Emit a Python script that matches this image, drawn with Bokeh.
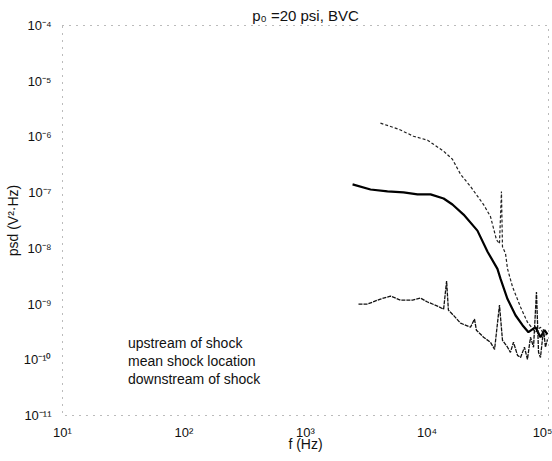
from bokeh.plotting import figure
from bokeh.models import CustomJSTickFormatter, Legend, LegendItem, Range1d
from bokeh.embed import file_html
from bokeh.resources import INLINE

# ---- data ----
up_f = [4140, 5830, 7740, 10100, 13700, 16200, 18900, 22800, 29200, 33300, 37300,
        39500, 41000, 41800, 44300, 46000, 50600, 58900, 67100, 78200, 85900, 92700, 98100]
up_psd = [1.77e-6, 1.38e-6, 1.03e-6, 8.75e-7, 5.54e-7, 3.97e-7, 2.13e-7, 1.29e-7, 6.12e-8,
          3.72e-8, 1.43e-8, 1.21e-8, 1.05e-7, 1.07e-8, 8.0e-9, 4.28e-9, 2.03e-9, 8.8e-10,
          4.73e-10, 3.13e-10, 3.85e-10, 2.54e-10, 3.13e-10]

mean_f = [2440, 3430, 4730, 6410, 8350, 10700, 13700, 16200, 20000, 26000, 31500, 38000,
          40300, 46000, 53500, 61100, 68400, 78200, 85900, 92700, 98100]
mean_psd = [1.41e-7, 1.14e-7, 1.05e-7, 1.01e-7, 9.3e-8, 9.3e-8, 7.85e-8, 6.12e-8, 4.04e-8,
            2.08e-8, 8.7e-9, 4.28e-9, 2.83e-9, 1.23e-9, 6.3e-10, 4.18e-10, 3.13e-10,
            3.85e-10, 2.54e-10, 3.40e-10, 2.87e-10]

down_f = [2730, 3240, 4140, 5010, 6050, 7600, 8850, 10100, 12200, 13700, 14500, 15000,
          16500, 18900, 22800, 24600, 25500, 29200, 33300, 36000, 39500, 41800, 46000,
          48600, 51500, 55600, 58900, 63400, 67100, 71100, 75300, 79600, 82800, 85900,
          91000, 94400, 98100]
down_psd = [1.0e-9, 1.0e-9, 1.23e-9, 1.39e-9, 1.18e-9, 1.18e-9, 1.28e-9, 1.09e-9, 9.2e-10,
            8.1e-10, 2.6e-9, 7.8e-10, 6.3e-10, 4.54e-10, 3.85e-10, 5.36e-10, 3.40e-10,
            2.54e-10, 2.06e-10, 1.54e-10, 9.6e-10, 2.24e-10, 1.68e-10, 1.36e-10, 2.06e-10,
            1.20e-10, 1.10e-10, 1.68e-10, 1.02e-10, 2.54e-10, 1.68e-10, 1.65e-9, 1.36e-10,
            1.10e-10, 3.54e-10, 1.68e-10, 2.33e-10]

series_labels = ["upstream of shock", "mean shock location", "downstream of shock"]
title_text = "p\u2080 =20 psi, BVC"
x_label = "f (Hz)"
y_label = "psd (V\u00b2\u00b7Hz)"

FONT = "Liberation Sans"

p = figure(width=552, height=461, x_axis_type="log", y_axis_type="log",
           x_range=Range1d(10, 1e5), y_range=Range1d(1e-11, 1e-4),
           output_backend="svg", toolbar_location=None,
           min_border_left=62, min_border_right=4, min_border_top=25, min_border_bottom=46,
           title=title_text)
p.background_fill_color = "white"
p.border_fill_color = "white"
p.grid.visible = False
p.outline_line_color = "#777777"
p.outline_line_dash = "1 6"
p.outline_line_width = 1

p.title.align = "center"
p.title.text_font = FONT
p.title.text_font_size = "15px"
p.title.text_font_style = "normal"
p.title.text_color = "#111111"
p.title.standoff = 4

fmt = CustomJSTickFormatter(code="""
const sup = {'-':'\u207b','0':'\u2070','1':'\u00b9','2':'\u00b2','3':'\u00b3','4':'\u2074',
             '5':'\u2075','6':'\u2076','7':'\u2077','8':'\u2078','9':'\u2079'};
const e = Math.round(Math.log10(tick));
return '10' + String(e).split('').map(c => sup[c]).join('');
""")

for ax in (p.xaxis[0], p.yaxis[0]):
    ax.formatter = fmt
    ax.axis_line_color = None
    ax.major_tick_line_color = None
    ax.minor_tick_line_color = None
    ax.major_label_text_font = FONT
    ax.major_label_text_font_size = "13px"
    ax.major_label_text_color = "#111111"
    ax.axis_label_text_font = FONT
    ax.axis_label_text_font_size = "14px"
    ax.axis_label_text_font_style = "normal"
    ax.axis_label_text_color = "#111111"

p.xaxis.axis_label = x_label
p.yaxis.axis_label = y_label
p.xaxis.major_label_standoff = 3
p.yaxis.major_label_standoff = 5
p.xaxis.axis_label_standoff = -7
p.yaxis.axis_label_standoff = 0

r_up = p.line(up_f, up_psd, line_color="#222222", line_width=1.2, line_dash="3 2")
r_mean = p.line(mean_f, mean_psd, line_color="#000000", line_width=2.2)
r_down = p.line(down_f, down_psd, line_color="#111111", line_width=1.3, line_dash="4 1")

legend = Legend(items=[LegendItem(label=series_labels[0], renderers=[r_up]),
                       LegendItem(label=series_labels[1], renderers=[r_mean]),
                       LegendItem(label=series_labels[2], renderers=[r_down])],
                location=(66, 28), glyph_width=0, glyph_height=14, label_standoff=0,
                padding=2, margin=0, spacing=2, border_line_color=None,
                background_fill_alpha=0,
                label_text_font=FONT, label_text_font_size="14px", label_text_color="#111111",
                label_height=14)
p.add_layout(legend, "center")

open("out.html", "w").write(file_html(p, INLINE))
